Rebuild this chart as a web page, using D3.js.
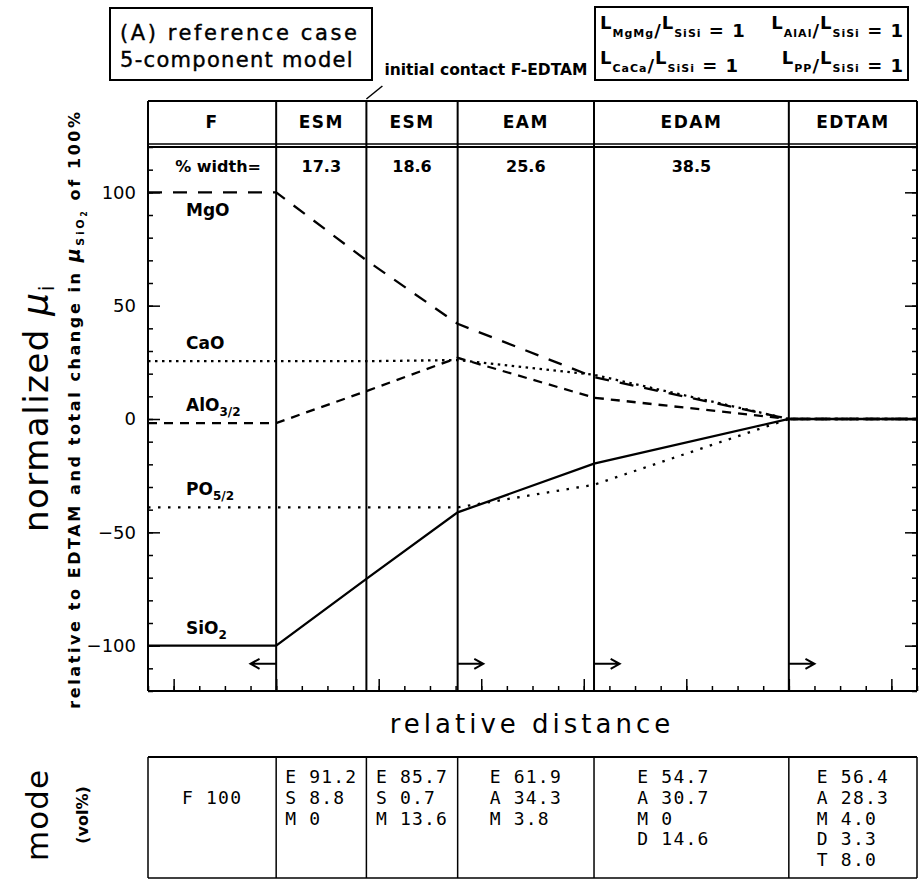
<!DOCTYPE html>
<html>
<head>
<meta charset="utf-8">
<script src="https://cdn.jsdelivr.net/npm/d3@7"></script>
<style>
body { margin: 0; background: #fff; }
svg { display: block; }
</style>
</head>
<body>
<div id="chart"></div>
<script>
var zoneNames = ['F', 'ESM', 'ESM', 'EAM', 'EDAM', 'EDTAM'];
var zoneWidthText = ['% width=', '17.3', '18.6', '25.6', '38.5', ''];
var zoneBounds = [1.0, 1.88, 2.77, 4.1, 6.0];

// normalized mu at the zone boundaries (relative distance units)
var nodeX = [-0.25, 1.0, 1.88, 2.77, 4.1, 6.0, 7.25];
var muMgO = [100, 100, 70, 42, 18.5, 0, 0];
var muCaO = [25.5, 25.5, 25.5, 26, 19.5, 0, 0];
var muAlO = [-1.8, -1.8, 12.3, 27, 9.4, 0, 0];
var muPO = [-39, -39, -39, -39, -29, 0, 0];
var muSiO2 = [-100, -100, -70.5, -41.2, -19.7, 0, 0];

var yTicks = [-100, -50, 0, 50, 100];
var arrowBound = [0, 2, 3, 4];
var arrowDir = [-1, 1, 1, 1];

var lPairs = [['MgMg', 'AlAl'], ['CaCa', 'PP']];
var lValue = 1;

var modeLines = [
    ['F 100'],
    ['E 91.2', 'S 8.8', 'M 0'],
    ['E 85.7', 'S 0.7', 'M 13.6'],
    ['E 61.9', 'A 34.3', 'M 3.8'],
    ['E 54.7', 'A 30.7', 'M 0', 'D 14.6'],
    ['E 56.4', 'A 28.3', 'M 4.0', 'D 3.3', 'T 8.0']
];

var series = [
    { name : 'MgO', sub : '', values : muMgO, dash : '14,11' },
    { name : 'CaO', sub : '', values : muCaO, dash : '2.5,4.5' },
    { name : 'AlO', sub : '3/2', values : muAlO, dash : '9,7' },
    { name : 'PO', sub : '5/2', values : muPO, dash : '2.5,7.5' },
    { name : 'SiO', sub : '2', values : muSiO2, dash : null }
];

var FONT = 'DejaVu Sans, sans-serif';
var svg = d3.select('#chart').append('svg').attr('width', 919).attr('height', 880).style('font-family', FONT);

var x = d3.scaleLinear().domain([-0.25, 7.25]).range([148, 917]);
var y = d3.scaleLinear().domain([-120, 120]).range([691, 147]);
var edges = [x.domain()[0]].concat(zoneBounds, [x.domain()[1]]);
var left = x.range()[0], right = x.range()[1];

// text made of normal / subscript pieces, p = [text, size, shift, style]
function richText(sel, parts) {
    var cur = 0;
    parts.forEach(function(p) {
        var t = sel.append('tspan').text(p[0]).attr('font-size', p[1]).attr('dy', p[2] - cur);
        if (p[3]) t.attr('font-style', p[3]);
        cur = p[2];
    });
}

function hline(x1, x2, yy, w) {
    svg.append('line').attr('x1', x1).attr('x2', x2).attr('y1', yy).attr('y2', yy).attr('stroke', '#000').attr('stroke-width', w);
}

function vline(xx, y1, y2, w) {
    svg.append('line').attr('x1', xx).attr('x2', xx).attr('y1', y1).attr('y2', y2).attr('stroke', '#000').attr('stroke-width', w);
}

// title box
svg.append('rect').attr('x', 110).attr('y', 8).attr('width', 262).attr('height', 72).attr('fill', 'none').attr('stroke', '#000').attr('stroke-width', 2);
svg.append('text').attr('x', 120).attr('y', 40).attr('font-size', 21).attr('letter-spacing', 2.6).attr('stroke', '#000').attr('stroke-width', 0.4).text('(A) reference case');
svg.append('text').attr('x', 120).attr('y', 67).attr('font-size', 21).attr('letter-spacing', 1.3).attr('stroke', '#000').attr('stroke-width', 0.4).text('5-component model');

// transfer coefficient box
svg.append('rect').attr('x', 595).attr('y', 7).attr('width', 313).attr('height', 73).attr('fill', 'none').attr('stroke', '#000').attr('stroke-width', 2);
lPairs.forEach(function(pair, i) {
    var base = 37 + i * 35;
    pair.forEach(function(sp, j) {
        var t = svg.append('text').attr('y', base).attr('font-weight', 'bold').attr('letter-spacing', 1)
            .attr('x', j == 0 ? 600 : 904).attr('text-anchor', j == 0 ? 'start' : 'end');
        richText(t, [['L', 18, -8], [sp, 11, 0], ['/', 18, 0], ['L', 18, -8], ['SiSi', 11, 0], [' = ' + lValue, 18, 0]]);
    });
});

// initial contact pointer
var xc = x(zoneBounds[1]);
svg.append('line').attr('x1', xc).attr('y1', 99).attr('x2', xc + 16).attr('y2', 86).attr('stroke', '#000').attr('stroke-width', 1.5);
svg.append('text').attr('x', xc + 18).attr('y', 75).attr('font-size', 15.5).attr('font-weight', 'bold').text('initial contact F-EDTAM');

// header row
hline(left, right, 101, 2);
hline(left, right, 144, 1.5);
edges.forEach(function(e) {
    vline(x(e), 101, 147, 2);
});
zoneNames.forEach(function(n, i) {
    var cx = (x(edges[i]) + x(edges[i + 1])) / 2;
    svg.append('text').attr('x', cx).attr('y', 128).attr('text-anchor', 'middle').attr('font-size', 17).attr('font-weight', 'bold').attr('letter-spacing', 1.5).text(n);
    svg.append('text').attr('x', cx + (i == 0 ? 6 : 0)).attr('y', 172).attr('text-anchor', 'middle').attr('font-size', 16).attr('font-weight', 'bold').text(zoneWidthText[i]);
});

// axes (ticks point inward)
function styleAxis(g) {
    g.select('.domain').remove();
    g.selectAll('line').attr('stroke-width', 1.5);
}
svg.append('g').attr('transform', 'translate(' + left + ',0)')
    .call(d3.axisLeft(y).tickValues(d3.range(-120, 121, 10)).tickSize(-5).tickFormat('')).call(styleAxis);
svg.append('g').attr('transform', 'translate(' + left + ',0)')
    .call(d3.axisLeft(y).tickValues(yTicks).tickSize(-12).tickPadding(12)).call(styleAxis)
    .selectAll('text').attr('font-size', 18).attr('font-family', FONT);
svg.append('g').attr('transform', 'translate(' + right + ',0)')
    .call(d3.axisRight(y).tickValues(d3.range(-120, 121, 10)).tickSize(-5).tickFormat('')).call(styleAxis);
svg.append('g').attr('transform', 'translate(' + right + ',0)')
    .call(d3.axisRight(y).tickValues(yTicks).tickSize(-12).tickFormat('')).call(styleAxis);
svg.append('g').attr('transform', 'translate(0,' + y.range()[0] + ')')
    .call(d3.axisBottom(x).tickValues(d3.range(-0.25, 7.26, 0.25)).tickSize(-5).tickFormat('')).call(styleAxis);
svg.append('g').attr('transform', 'translate(0,' + y.range()[0] + ')')
    .call(d3.axisBottom(x).tickValues(d3.range(0, 8)).tickSize(-12).tickFormat('')).call(styleAxis);

// frame and zone boundaries
hline(left, right, y.range()[1], 2);
hline(left, right, y.range()[0], 2);
edges.forEach(function(e) {
    vline(x(e), y.range()[1], y.range()[0], 2);
});

// mu curves
var line = d3.line().x(function(d, i) { return x(nodeX[i]); }).y(function(d) { return y(d); });
svg.selectAll('path.mu').data(series).enter().append('path').attr('class', 'mu')
    .attr('d', function(d) { return line(d.values); })
    .attr('fill', 'none').attr('stroke', '#000').attr('stroke-width', 2.3)
    .attr('stroke-dasharray', function(d) { return d.dash; });

// component labels in F zone
series.forEach(function(s) {
    var off = s.name == 'MgO' ? 24 : -12;
    var t = svg.append('text').attr('x', left + 38).attr('y', y(s.values[0]) + off).attr('font-weight', 'bold');
    var parts = [[s.name, 17, 0]];
    if (s.sub) parts.push([s.sub, 12, 5]);
    richText(t, parts);
});

// migration arrows of the zone boundaries
var ya = y(-108);
arrowBound.forEach(function(b, i) {
    var x0 = x(zoneBounds[b]), x1 = x(zoneBounds[b] + arrowDir[i] * 0.25), d = arrowDir[i];
    svg.append('path').attr('d', 'M' + x0 + ',' + ya + 'L' + x1 + ',' + ya + 'M' + (x1 - d * 9) + ',' + (ya - 5) + 'L' + x1 + ',' + ya + 'L' + (x1 - d * 9) + ',' + (ya + 5))
        .attr('fill', 'none').attr('stroke', '#000').attr('stroke-width', 2);
});

// axis titles
svg.append('text').attr('transform', 'translate(48,408) rotate(-90)').attr('text-anchor', 'middle').attr('font-size', 34).attr('letter-spacing', 1.5)
    .call(richText, [['normalized ', 34, 0], ['\u03bc', 36, 0, 'italic'], ['i', 21, 6]]);
svg.append('text').attr('transform', 'translate(80,409) rotate(-90)').attr('text-anchor', 'middle').attr('font-weight', 'bold').attr('letter-spacing', 2.6)
    .call(richText, [['relative to EDTAM and total change in ', 16, 0], ['\u03bc', 19, 0, 'italic'], ['SiO', 11, 4], ['2', 8, 7], [' of 100%', 16, 0]]);
svg.append('text').attr('x', 532).attr('y', 733).attr('text-anchor', 'middle').attr('font-size', 26).attr('letter-spacing', 4).text('relative distance');

// mode table
var tTop = 757, tBot = 878;
hline(left, right, tTop, 2);
hline(left, right, tBot, 1.5);
edges.forEach(function(e) {
    vline(x(e), tTop, tBot, 1.5);
});
modeLines.forEach(function(lines, i) {
    var cx = (x(edges[i]) + x(edges[i + 1])) / 2;
    var g = svg.append('g');
    lines.forEach(function(l, k) {
        var row = lines.length == 1 ? 1 : k;
        g.append('text').attr('y', 783 + row * 20.8).attr('font-family', 'DejaVu Sans Mono, monospace').attr('font-size', 18).attr('letter-spacing', 1.2).text(l);
    });
    var w = d3.max(g.selectAll('text').nodes(), function(n) { return n.getComputedTextLength(); });
    g.selectAll('text').attr('x', cx - w / 2 - (lines.length == 4 ? 18 : 0));
});
svg.append('text').attr('transform', 'translate(48,815) rotate(-90)').attr('text-anchor', 'middle').attr('font-size', 31).attr('letter-spacing', 1).text('mode');
svg.append('text').attr('transform', 'translate(88,815) rotate(-90)').attr('text-anchor', 'middle').attr('font-size', 16).attr('font-weight', 'bold').text('(vol%)');
</script>
</body>
</html>
